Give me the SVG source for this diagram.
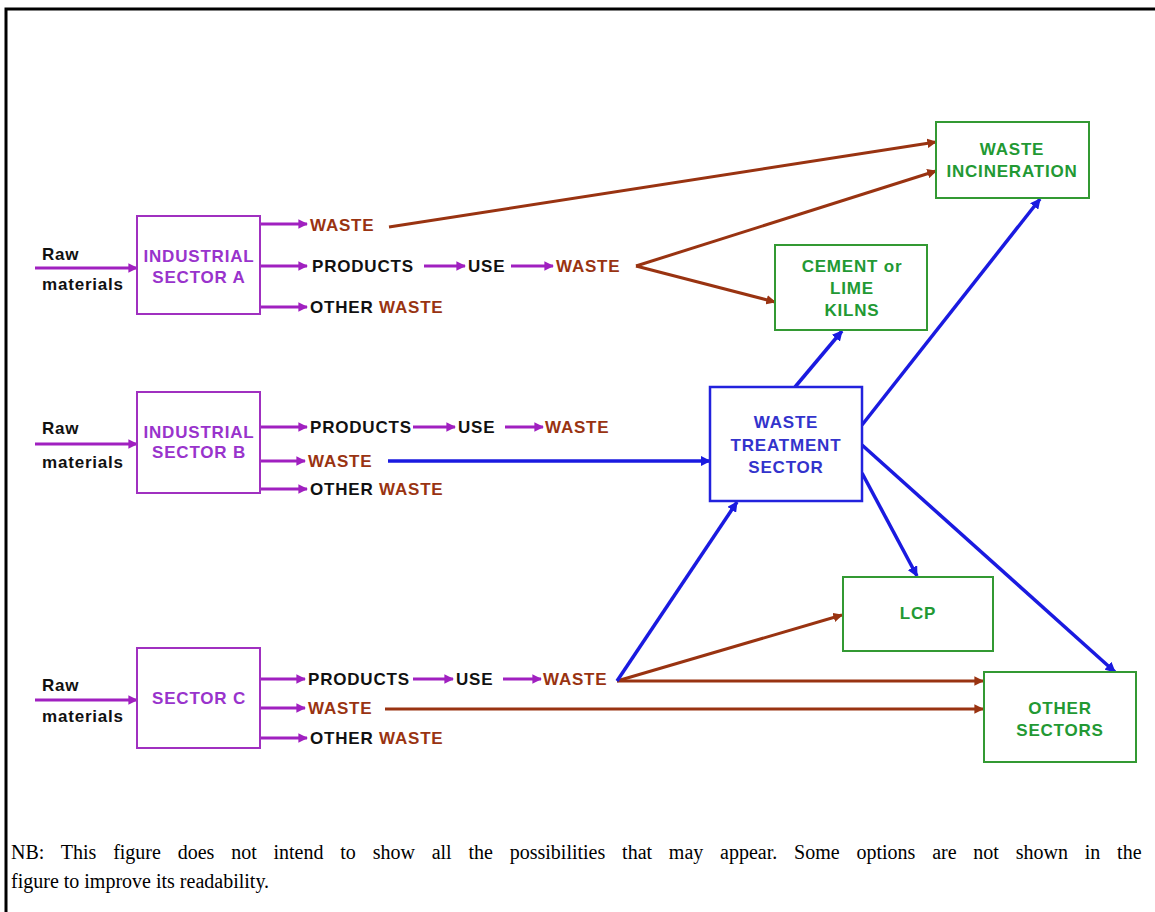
<svg xmlns="http://www.w3.org/2000/svg" width="1155" height="912" viewBox="0 0 1155 912">
<defs>
<style>
.t{font-family:"Liberation Sans",Arial,sans-serif;font-weight:bold;font-size:17px;letter-spacing:0.8px}
.k{fill:#111}
.br{fill:#993311}
.pu{fill:#9933cc}
.bl{fill:#3333cc}
.gr{fill:#229933}
.m{text-anchor:middle}
.pl{stroke:#a020c0;stroke-width:3;fill:none;marker-end:url(#ap)}
.bw{stroke:#993311;stroke-width:3;fill:none;marker-end:url(#ab)}
.bu{stroke:#1a1ae0;stroke-width:3.5;fill:none;marker-end:url(#au)}
.pbox{fill:#fff;stroke:#a030c0;stroke-width:2}
.gbox{fill:#fff;stroke:#339933;stroke-width:2}
.ubox{fill:#fff;stroke:#2222dd;stroke-width:2.5}
.nb{font-family:"Liberation Serif","Times New Roman",serif;font-size:20px;fill:#000}
</style>
<marker id="ap" viewBox="0 0 10 10" refX="9" refY="5" markerWidth="3.2" markerHeight="3.2" orient="auto" markerUnits="strokeWidth"><path d="M0,0 L10,5 L0,10 Z" fill="#a020c0"/></marker>
<marker id="ab" viewBox="0 0 10 10" refX="9" refY="5" markerWidth="3.2" markerHeight="3.2" orient="auto" markerUnits="strokeWidth"><path d="M0,0 L10,5 L0,10 Z" fill="#993311"/></marker>
<marker id="au" viewBox="0 0 10 10" refX="9" refY="5" markerWidth="3" markerHeight="3" orient="auto" markerUnits="strokeWidth"><path d="M0,0 L10,5 L0,10 Z" fill="#1a1ae0"/></marker>
</defs>
<rect width="1155" height="912" fill="#fff"/>
<path d="M6,912 V9 H1155" fill="none" stroke="#000" stroke-width="3"/>

<g id="connectors">
<line class="pl" x1="35" y1="268" x2="137" y2="268"/>
<line class="pl" x1="260" y1="224" x2="307" y2="224"/>
<line class="pl" x1="260" y1="266" x2="307" y2="266"/>
<line class="pl" x1="260" y1="307" x2="307" y2="307"/>
<line class="pl" x1="424" y1="266" x2="465" y2="266"/>
<line class="pl" x1="511" y1="266" x2="553" y2="266"/>

<line class="pl" x1="35" y1="444" x2="137" y2="444"/>
<line class="pl" x1="260" y1="427" x2="307" y2="427"/>
<line class="pl" x1="260" y1="461" x2="305" y2="461"/>
<line class="pl" x1="260" y1="489" x2="307" y2="489"/>
<line class="pl" x1="413" y1="427" x2="455" y2="427"/>
<line class="pl" x1="505" y1="427" x2="543" y2="427"/>

<line class="pl" x1="35" y1="700" x2="137" y2="700"/>
<line class="pl" x1="260" y1="679" x2="305" y2="679"/>
<line class="pl" x1="260" y1="708" x2="305" y2="708"/>
<line class="pl" x1="260" y1="738" x2="307" y2="738"/>
<line class="pl" x1="413" y1="679" x2="453" y2="679"/>
<line class="pl" x1="503" y1="679" x2="541" y2="679"/>

<line class="bw" x1="389" y1="227" x2="936" y2="142"/>
<line class="bw" x1="636" y1="266" x2="936" y2="171"/>
<line class="bw" x1="636" y1="266" x2="775" y2="302"/>
<line class="bw" x1="617" y1="681" x2="842" y2="615"/>
<line class="bw" x1="617" y1="681" x2="983" y2="681"/>
<line class="bw" x1="385" y1="709" x2="983" y2="709"/>

<line class="bu" x1="388" y1="461" x2="710" y2="461"/>
<line class="bu" x1="617" y1="681" x2="737" y2="502"/>
<line class="bu" x1="795" y1="387" x2="842" y2="331"/>
<line class="bu" x1="862" y1="425" x2="1040" y2="199"/>
<line class="bu" x1="862" y1="473" x2="917" y2="576"/>
<line class="bu" x1="862" y1="445" x2="1115" y2="672"/>
</g>

<g id="sectorA">
<rect class="pbox" x="137" y="216" width="123" height="98"/>
<text class="t pu m" x="199" y="262">INDUSTRIAL</text>
<text class="t pu m" x="199" y="283">SECTOR A</text>
</g>
<g id="rawA">
<text class="t k" x="42" y="260">Raw</text>
<text class="t k" x="42" y="290">materials</text>
</g>
<g id="rowA">
<text class="t br" x="310" y="231">WASTE</text>
<text class="t k" x="312" y="272">PRODUCTS</text>
<text class="t k" x="468" y="272">USE</text>
<text class="t br" x="556" y="272">WASTE</text>
<text class="t k" x="310" y="313">OTHER <tspan class="br">WASTE</tspan></text>
</g>

<g id="sectorB">
<rect class="pbox" x="137" y="392" width="123" height="101"/>
<text class="t pu m" x="199" y="438">INDUSTRIAL</text>
<text class="t pu m" x="199" y="458">SECTOR B</text>
</g>
<g id="rawB">
<text class="t k" x="42" y="434">Raw</text>
<text class="t k" x="42" y="468">materials</text>
</g>
<g id="rowB">
<text class="t k" x="310" y="433">PRODUCTS</text>
<text class="t k" x="458" y="433">USE</text>
<text class="t br" x="545" y="433">WASTE</text>
<text class="t br" x="308" y="467">WASTE</text>
<text class="t k" x="310" y="495">OTHER <tspan class="br">WASTE</tspan></text>
</g>

<g id="sectorC">
<rect class="pbox" x="137" y="648" width="123" height="100"/>
<text class="t pu m" x="199" y="704">SECTOR C</text>
</g>
<g id="rawC">
<text class="t k" x="42" y="691">Raw</text>
<text class="t k" x="42" y="722">materials</text>
</g>
<g id="rowC">
<text class="t k" x="308" y="685">PRODUCTS</text>
<text class="t k" x="456" y="685">USE</text>
<text class="t br" x="543" y="685">WASTE</text>
<text class="t br" x="308" y="714">WASTE</text>
<text class="t k" x="310" y="744">OTHER <tspan class="br">WASTE</tspan></text>
</g>

<g id="incineration">
<rect class="gbox" x="936" y="122" width="153" height="76"/>
<text class="t gr m" x="1012" y="155">WASTE</text>
<text class="t gr m" x="1012" y="177">INCINERATION</text>
</g>
<g id="cement">
<rect class="gbox" x="775" y="245" width="152" height="85"/>
<text class="t gr m" x="852" y="272">CEMENT or</text>
<text class="t gr m" x="852" y="294">LIME</text>
<text class="t gr m" x="852" y="316">KILNS</text>
</g>
<g id="treatment">
<rect class="ubox" x="710" y="387" width="152" height="114"/>
<text class="t bl m" x="786" y="428">WASTE</text>
<text class="t bl m" x="786" y="451">TREATMENT</text>
<text class="t bl m" x="786" y="473">SECTOR</text>
</g>
<g id="lcp">
<rect class="gbox" x="843" y="577" width="150" height="74"/>
<text class="t gr m" x="918" y="619">LCP</text>
</g>
<g id="other">
<rect class="gbox" x="984" y="672" width="152" height="90"/>
<text class="t gr m" x="1060" y="714">OTHER</text>
<text class="t gr m" x="1060" y="736">SECTORS</text>
</g>

<g id="note">
<text class="nb" x="11" y="859" word-spacing="11.8">NB: This figure does not intend to show all the possibilities that may appear. Some options are not shown in the</text>
<text class="nb" x="11" y="888">figure to improve its readability.</text>
</g>
</svg>
